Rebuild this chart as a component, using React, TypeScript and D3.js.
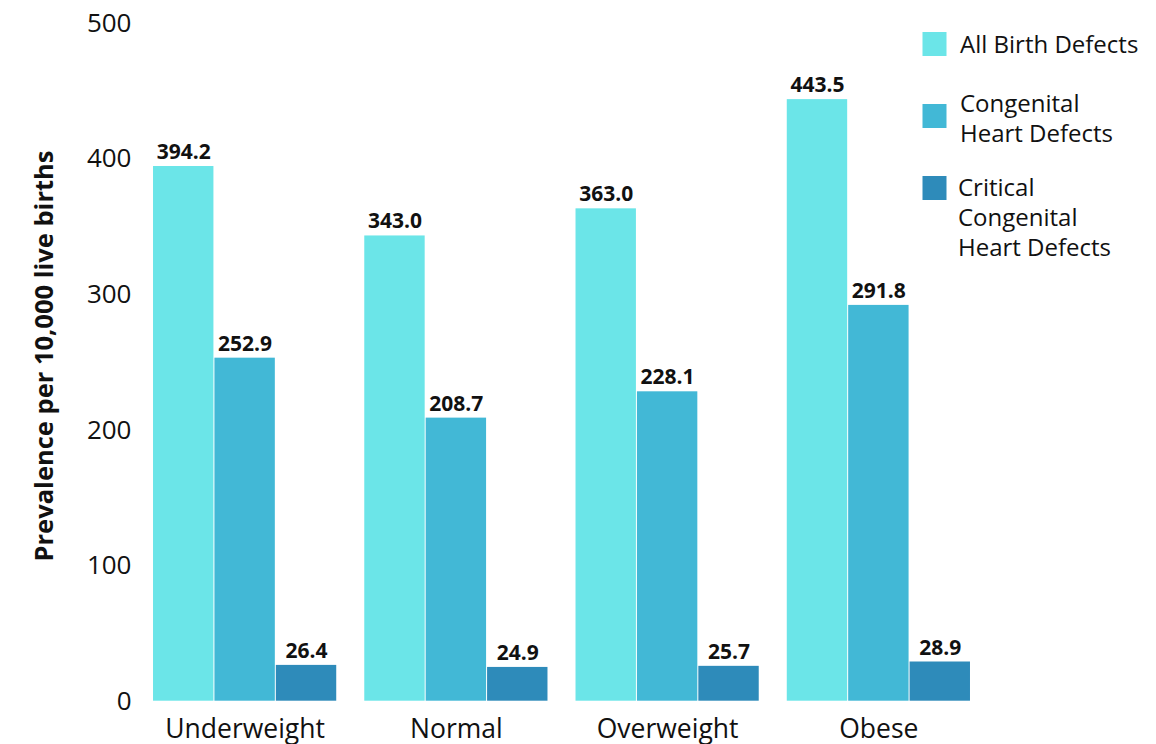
import React from "react";
import * as d3 from "d3";

const categories = ["Underweight", "Normal", "Overweight", "Obese"];
const seriesNames = ["All Birth Defects", "Congenital Heart Defects", "Critical Congenital Heart Defects"];
const legendLines = [["All Birth Defects"], ["Congenital", "Heart Defects"], ["Critical", "Congenital", "Heart Defects"]];
const allBirthDefects = [394.2, 343.0, 363.0, 443.5];
const congenitalHeart = [252.9, 208.7, 228.1, 291.8];
const criticalHeart = [26.4, 24.9, 25.7, 28.9];
const yTicks = [0, 100, 200, 300, 400, 500];
const colors = ["#6be5e8", "#42b8d6", "#2e8bba"];

const W = 1156;
const H = 744;
const FONT = "'Open Sans', sans-serif";

export default function App() {
  const series = [allBirthDefects, congenitalHeart, criticalHeart];
  const x0 = d3.scaleBand<string>().domain(categories).range([139.5, 984.5]).paddingInner(0.128).paddingOuter(0.064);
  const x1 = d3.scaleBand<string>().domain(seriesNames).range([0, x0.bandwidth()]);
  const y = d3.scaleLinear().domain([0, 500]).range([700.7, 22.5]);

  const legendY = [32, 104, 176];
  const legendTextX = [960, 960, 958];
  const legendFirstBaseline = [53, 112, 196];

  return (
    <svg width={W} height={H} style={{ position: "absolute", left: 0, top: 0, background: "#fff" }}>
      <g fontFamily={FONT}>
        {yTicks.map((t) => (
          <text key={t} x={131.5} y={y(t)} dy="0.35em" textAnchor="end" fontSize={26} fill="#111">
            {t}
          </text>
        ))}
        <text
          transform={`translate(44, ${356}) rotate(-90)`}
          textAnchor="middle"
          dy="0.35em"
          fontSize={25.5}
          fontWeight="bold"
          fill="#111"
        >
          Prevalence per 10,000 live births
        </text>
        {categories.map((c, ci) => (
          <g key={c} transform={`translate(${x0(c)},0)`}>
            {seriesNames.map((s, si) => {
              const v = series[si][ci];
              const bx = x1(s)!;
              const bw = x1.bandwidth();
              return (
                <g key={s}>
                  <rect x={bx} y={y(v)} width={bw - 1} height={y(0) - y(v)} fill={colors[si]} />
                  <text
                    x={bx + bw / 2}
                    y={y(v) - 7}
                    textAnchor="middle"
                    fontSize={21}
                    fontWeight="bold"
                    fill="#111"
                  >
                    {v.toFixed(1)}
                  </text>
                </g>
              );
            })}
            <text x={x0.bandwidth() / 2} y={738} textAnchor="middle" fontSize={26.5} fill="#111">
              {c}
            </text>
          </g>
        ))}
        {seriesNames.map((s, i) => (
          <g key={s}>
            <rect x={922.5} y={legendY[i]} width={24} height={24} fill={colors[i]} />
            {legendLines[i].map((line, li) => (
              <text key={li} x={legendTextX[i]} y={legendFirstBaseline[i] + li * 30} fontSize={24} fill="#111">
                {line}
              </text>
            ))}
          </g>
        ))}
      </g>
    </svg>
  );
}
